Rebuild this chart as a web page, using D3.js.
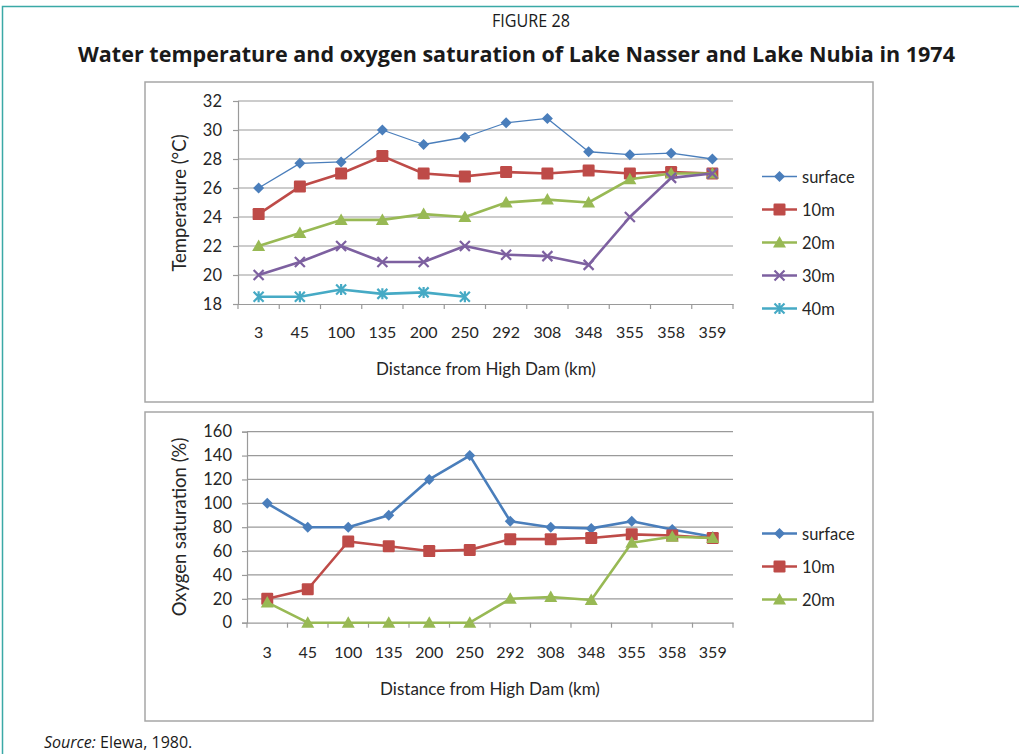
<!DOCTYPE html>
<html><head><meta charset="utf-8">
<script src="https://cdn.jsdelivr.net/npm/d3@7"></script>
<style>
body{margin:0;background:#fff;}
svg{display:block;}
</style></head>
<body>
<svg id="c" width="1019" height="754"></svg>
<script>
const categories = ["3","45","100","135","200","250","292","308","348","355","358","359"];

const tempSurface = [26, 27.7, 27.8, 30, 29, 29.5, 30.5, 30.8, 28.5, 28.3, 28.4, 28];
const temp10m     = [24.2, 26.1, 27, 28.2, 27, 26.8, 27.1, 27, 27.2, 27, 27.1, 27];
const temp20m     = [22, 22.9, 23.8, 23.8, 24.2, 24, 25, 25.2, 25, 26.6, 27, 27];
const temp30m     = [20, 20.9, 22, 20.9, 20.9, 22, 21.4, 21.3, 20.7, 24, 26.7, 27];
const temp40m     = [18.5, 18.5, 19, 18.7, 18.8, 18.5];
const tempTicks   = [18, 20, 22, 24, 26, 28, 30, 32];

const oxySurface = [100, 80, 80, 90, 120, 140, 85, 80, 79, 85, 78, 72];
const oxy10m     = [20, 28, 68, 64, 60, 61, 70, 70, 71, 74, 73, 71];
const oxy20m     = [17, 0, 0, 0, 0, 0, 20, 21.5, 19, 67, 72, 71];
const oxyTicks   = [0, 20, 40, 60, 80, 100, 120, 140, 160];

const colors = {surface:"#4A7EBB", "10m":"#BE4B48", "20m":"#98B954", "30m":"#7D60A0", "40m":"#46AAC5"};

const svg = d3.select("#c");
const FONT = "Lato, 'Open Sans', sans-serif";
const TFONT = "'Open Sans', 'Noto Sans', sans-serif";

// outer teal frame
svg.append("path").attr("d","M2.5,760 V6.5 H1030").attr("fill","none").attr("stroke","#3aa9a6").attr("stroke-width",1.5);

svg.append("text").attr("x",531).attr("y",27).attr("text-anchor","middle")
  .attr("font-family",TFONT).attr("font-size",18).attr("fill","#1a1a1a")
  .attr("textLength",78).attr("lengthAdjust","spacingAndGlyphs").text("FIGURE 28");
svg.append("text").attr("x",516.5).attr("y",62).attr("text-anchor","middle")
  .attr("font-family",TFONT).attr("font-weight","bold").attr("font-size",21).attr("fill","#1a1a1a")
  .attr("textLength",877).attr("lengthAdjust","spacingAndGlyphs")
  .text("Water temperature and oxygen saturation of Lake Nasser and Lake Nubia in 1974");

const src = svg.append("text").attr("x",44).attr("y",748).attr("font-family",TFONT).attr("font-size",16).attr("fill","#1a1a1a");
src.append("tspan").attr("font-style","italic").text("Source:");
src.append("tspan").text(" Elewa, 1980.");

function marker(g, type, color, x, y){
  if(type==="surface"){
    g.append("path").attr("d",`M${x},${y-5.5} L${x+5.5},${y} L${x},${y+5.5} L${x-5.5},${y} Z`).attr("fill",color);
  } else if(type==="10m"){
    g.append("rect").attr("x",x-6).attr("y",y-6).attr("width",12).attr("height",12).attr("rx",1.2).attr("fill",color);
  } else if(type==="20m"){
    g.append("path").attr("d",`M${x},${y-6.5} L${x+6.5},${y+5} L${x-6.5},${y+5} Z`).attr("fill",color);
  } else if(type==="30m"){
    g.append("path").attr("d",`M${x-5},${y-5} L${x+5},${y+5} M${x+5},${y-5} L${x-5},${y+5}`).attr("stroke",color).attr("stroke-width",2.2);
  } else if(type==="40m"){
    g.append("path").attr("d",`M${x-5},${y-5} L${x+5},${y+5} M${x+5},${y-5} L${x-5},${y+5} M${x},${y-5.5} L${x},${y+5.5}`).attr("stroke",color).attr("stroke-width",2.2);
  }
}

function chart(opt){
  const g = svg.append("g");
  g.append("rect").attr("x",opt.box[0]).attr("y",opt.box[1]).attr("width",opt.box[2]-opt.box[0]).attr("height",opt.box[3]-opt.box[1])
    .attr("fill","none").attr("stroke","#a6a6a6").attr("stroke-width",1.5);
  const x = d3.scaleBand().domain(categories).range([opt.left, opt.right]).padding(0);
  const y = d3.scaleLinear().domain([opt.ticks[0], opt.ticks[opt.ticks.length-1]]).range([opt.bottom, opt.top]);
  g.append("g").selectAll("line").data(opt.ticks.slice(1)).join("line")
    .attr("x1",opt.left).attr("x2",opt.right).attr("y1",d=>y(d)).attr("y2",d=>y(d))
    .attr("stroke","#9a9a9a").attr("stroke-width",1.2);
  const ya = g.append("g").attr("transform",`translate(${opt.left},0)`)
    .call(d3.axisLeft(y).tickValues(opt.ticks).tickSize(5).tickPadding(opt.yPad));
  ya.select(".domain").attr("stroke","#9a9a9a").attr("stroke-width",1.2);
  ya.selectAll(".tick line").attr("stroke","#9a9a9a").attr("stroke-width",1.2);
  ya.selectAll("text").attr("font-family",FONT).attr("font-size",16.5).attr("fill","#262626");
  const xa = g.append("g").attr("transform",`translate(0,${opt.bottom})`)
    .call(d3.axisBottom(x).tickSize(0).tickPadding(opt.xPad));
  xa.select(".domain").attr("stroke","#9a9a9a").attr("stroke-width",1.2);
  xa.selectAll("text").attr("font-family",FONT).attr("font-size",16).attr("fill","#262626");
  g.append("g").selectAll("line").data(d3.range(categories.length+1)).join("line")
    .attr("x1",i=>opt.left + i*x.bandwidth()).attr("x2",i=>opt.left + i*x.bandwidth())
    .attr("y1",opt.bottom).attr("y2",opt.bottom+5).attr("stroke","#9a9a9a").attr("stroke-width",1.2);
  g.append("text").attr("x",opt.xTitle[0]).attr("y",opt.xTitle[1]).attr("text-anchor","middle")
    .attr("font-family",FONT).attr("font-size",17).attr("fill","#262626").text("Distance from High Dam (km)");
  g.append("text").attr("transform",`translate(${opt.yTitle[0]},${opt.yTitle[1]}) rotate(-90)`).attr("text-anchor","middle")
    .attr("font-family",FONT).attr("font-size",18.5).attr("fill","#262626").text(opt.yLabel);
  const cx = i => x(categories[i]) + x.bandwidth()/2;
  opt.series.forEach(s=>{
    const line = d3.line().x((d,i)=>cx(i)).y(d=>y(d));
    const lw = (opt.thinSurface && s.name==="surface") ? 1.3 : 2.6;
    g.append("path").attr("d",line(s.values)).attr("fill","none").attr("stroke",colors[s.name]).attr("stroke-width",lw).attr("stroke-linejoin","round");
    const mg = g.append("g");
    s.values.forEach((v,i)=>marker(mg, s.name, colors[s.name], cx(i), y(v)));
  });
  opt.series.forEach((s,k)=>{
    const ly = opt.legendY + k*opt.legendStep;
    const lw = (opt.thinSurface && s.name==="surface") ? 1.3 : 2.6;
    g.append("line").attr("x1",762).attr("x2",797).attr("y1",ly).attr("y2",ly).attr("stroke",colors[s.name]).attr("stroke-width",lw);
    marker(g, s.name, colors[s.name], 779.5, ly);
    g.append("text").attr("x",802).attr("y",ly+6).attr("font-family",FONT).attr("font-size",16.5).attr("fill","#262626").text(s.name);
  });
}

chart({
  box:[145,82,873,402], left:238, right:733, top:101, bottom:304,
  ticks:tempTicks, yLabel:"Temperature (°C)", xTitle:[486,375], yTitle:[186,203],
  thinSurface:true, legendY:176.5, legendStep:33, yPad:11, xPad:23,
  series:[
    {name:"surface", values:tempSurface},
    {name:"10m", values:temp10m},
    {name:"20m", values:temp20m},
    {name:"30m", values:temp30m},
    {name:"40m", values:temp40m}
  ]
});

chart({
  box:[145,412,873,721], left:247, right:733, top:431.7, bottom:622.7,
  ticks:oxyTicks, yLabel:"Oxygen saturation (%)", xTitle:[490,695], yTitle:[186,527],
  thinSurface:false, legendY:533.5, legendStep:33, yPad:10, xPad:24,
  series:[
    {name:"surface", values:oxySurface},
    {name:"10m", values:oxy10m},
    {name:"20m", values:oxy20m}
  ]
});
</script>
</body></html>
